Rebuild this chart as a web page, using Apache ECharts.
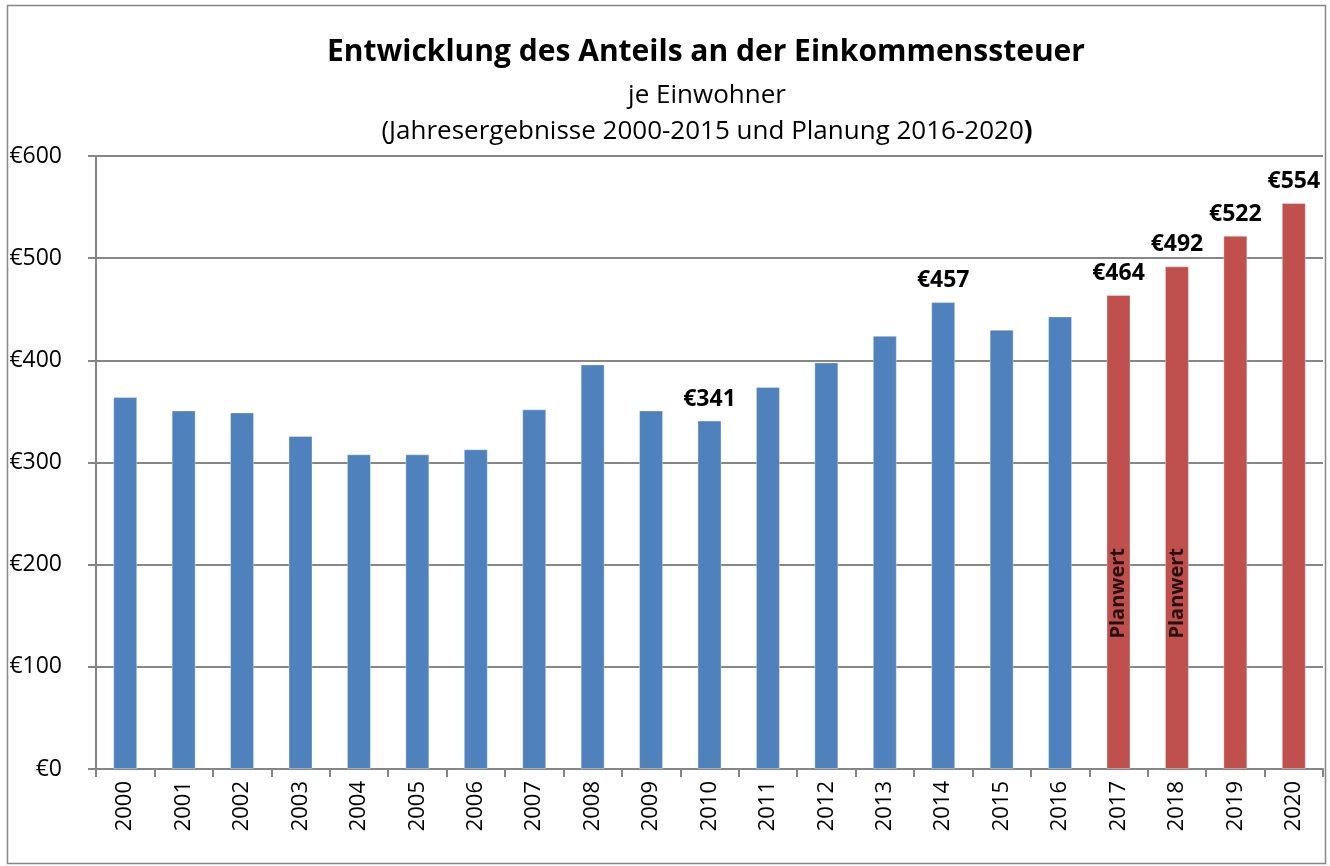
<!DOCTYPE html>
<html>
<head>
<meta charset="utf-8">
<script src="https://cdn.jsdelivr.net/npm/echarts@6/dist/echarts.min.js"></script>
<style>
  html, body { margin: 0; padding: 0; background: #fff; }
  #main { width: 1330px; height: 866px; }
</style>
</head>
<body>
<div id="main"></div>
<script>
// years and values per inhabitant (EUR)
var years = ['2000', '2001', '2002', '2003', '2004', '2005', '2006', '2007', '2008', '2009', '2010',
  '2011', '2012', '2013', '2014', '2015', '2016', '2017', '2018', '2019', '2020']
var values = [364, 351, 349, 326, 308, 308, 313, 352, 396, 351, 341,
  374, 398, 424, 457, 430, 443, 464, 492, 522, 554]
// which bars are planned values (red)
var planned = [false, false, false, false, false, false, false, false, false, false, false,
  false, false, false, false, false, false, true, true, true, true]
// which bars get a value label on top
var showLabel = ['2010', '2014', '2017', '2018', '2019', '2020']
// "Planwert" notes inside bars: [year, height of label centre]
var planwertNotes = [['2017', 172], ['2018', 172]]
var yTicks = [0, 100, 200, 300, 400, 500, 600]

var BLUE = '#4F81BD'
var RED = '#C0504D'
var FONT = 'Open Sans'

var barData = values.map(function (v, i) {
  return {
    value: v,
    itemStyle: { color: planned[i] ? RED : BLUE },
    label: { show: showLabel.indexOf(years[i]) >= 0 }
  }
})

var myChart = echarts.init(document.getElementById('main'))
var option = {
  backgroundColor: '#fff',
  animation: false,
  textStyle: { fontFamily: FONT },
  title: [
    {
      text: 'Entwicklung des Anteils an der Einkommenssteuer',
      left: 701,
      top: 32,
      textAlign: 'center',
      textStyle: { fontFamily: FONT, fontSize: 30, fontWeight: 'bold', color: '#000' }
    },
    {
      text: 'je Einwohner',
      left: 702,
      top: 78,
      textAlign: 'center',
      textStyle: { fontFamily: FONT, fontSize: 26, fontWeight: 'normal', color: '#000' }
    },
    {
      text: '(Jahresergebnisse 2000-2015 und Planung 2016-2020{b|)}',
      left: 702,
      top: 114,
      textAlign: 'center',
      textStyle: {
        fontFamily: FONT, fontSize: 26, fontWeight: 'normal', color: '#000',
        rich: { b: { fontFamily: FONT, fontSize: 26, fontWeight: 'bold', color: '#000' } }
      }
    }
  ],
  graphic: [
    {
      type: 'rect',
      shape: { x: 7.5, y: 5.5, width: 1318, height: 858 },
      style: { fill: null, stroke: '#868686', lineWidth: 1.5 },
      silent: true,
      z: -1
    }
  ],
  grid: { left: 96, right: 7, top: 156, bottom: 97, containLabel: false },
  xAxis: {
    type: 'category',
    data: years,
    boundaryGap: true,
    axisLine: { lineStyle: { color: '#868686', width: 2 } },
    axisTick: { show: true, interval: 0, length: 8, lineStyle: { color: '#868686', width: 2 } },
    axisLabel: {
      interval: 0,
      rotate: 90,
      margin: 12,
      fontFamily: FONT,
      fontSize: 22,
      color: '#000'
    }
  },
  yAxis: {
    type: 'value',
    min: yTicks[0],
    max: yTicks[yTicks.length - 1],
    interval: 100,
    axisLine: { show: true, lineStyle: { color: '#868686', width: 2 } },
    axisTick: { show: true, length: 8, lineStyle: { color: '#868686', width: 2 } },
    splitLine: { lineStyle: { color: '#868686', width: 2 } },
    axisLabel: {
      margin: 34,
      fontFamily: FONT,
      fontSize: 23,
      color: '#000',
      formatter: function (v) { return '€' + v }
    }
  },
  series: [
    {
      name: 'Einkommenssteuer',
      type: 'bar',
      barWidth: 24,
      data: barData,
      itemStyle: { borderColor: 'rgba(255,255,255,0.35)', borderWidth: 1 },
      label: {
        position: 'top',
        distance: 10,
        fontFamily: FONT,
        fontSize: 23,
        fontWeight: 'bold',
        color: '#000',
        formatter: function (p) { return '€' + p.value }
      },
      z: 2
    },
    {
      name: 'Planwert',
      type: 'scatter',
      symbolSize: 0,
      data: planwertNotes,
      label: {
        show: true,
        position: 'inside',
        rotate: 90,
        fontFamily: FONT,
        fontSize: 20,
        fontWeight: 'bold',
        color: '#000',
        formatter: 'Planwert'
      },
      z: 3
    }
  ]
}
myChart.setOption(option)
</script>
</body>
</html>
